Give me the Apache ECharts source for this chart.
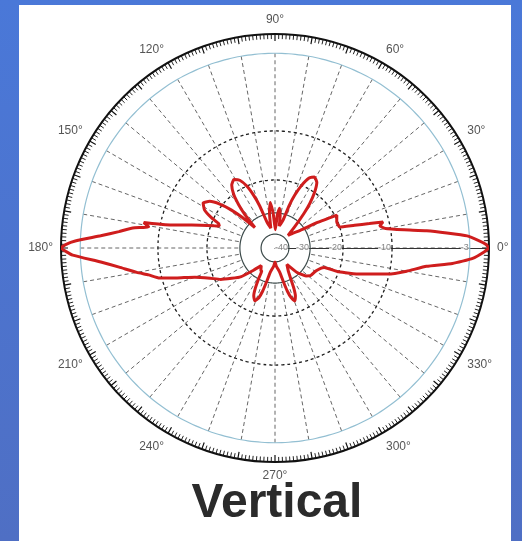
<!DOCTYPE html>
<html>
<head>
    <meta http-equiv="Content-Type" content="text/html; charset=utf-8" />
    <title>Vertical</title>
    <script src="https://cdn.jsdelivr.net/npm/echarts@6/dist/echarts.min.js"></script>
</head>
<body style="margin:0;padding:0;">
    <div id="main" style="width:522px;height:541px;"></div>
    <script type="text/javascript">
        /*************************************************************
        * data
        *************************************************************/
        // pattern, angle in degrees and level in dB
        var patternAngle = [0, 1, 2, 3.6, 5, 6.5, 8, 10, 12, 13.5, 14.5, 16, 18, 23, 28, 31, 35, 40, 44,
            47, 50, 52, 54.5, 57.5, 61, 64, 67, 69.5, 71.5, 74, 79, 81, 83.5, 86, 89, 93, 96, 99, 102,
            107, 110, 112, 114.5, 117.5, 121, 124.5, 127.5, 130, 132, 134.5, 137, 139, 141.5, 144.5, 148, 151.5, 154.5,
            156.5, 158.5, 160, 163, 166, 168, 169, 170.5, 172, 174, 176, 178, 179, 180,
            181, 182, 184.6, 187, 190, 192, 194.6, 197, 200, 205, 210, 215, 220, 226, 232, 238,
            240, 242, 244, 246, 249, 252, 254, 256, 259, 266, 270, 274, 281, 284, 286, 288, 290.5, 293, 295, 297, 300,
            306, 312, 318, 322, 330, 336, 338.4, 339.5, 343, 347, 350, 353.1, 355, 357, 359, 360];
        var patternDb = [0, -0.5, -1.5, -3.2, -5, -6.8, -8.8, -11, -12, -11.2, -14, -17, -20, -20.3, -19.6, -25.6, -32, -36, -38,
            -33, -27, -23.5, -20, -18, -17.3, -18, -20, -23.5, -27, -33, -36, -31, -28.5, -31, -38, -30, -26.8, -30, -37,
            -34, -27, -23.5, -20, -18.3, -17.6, -18.3, -20, -23.5, -27, -33, -27, -23, -19.5, -17.5, -16.6, -17.5, -19.5,
            -22, -22.5, -21, -18, -14.5, -11, -8.5, -9, -7.6, -6.4, -4.8, -2.2, -0.8, 0,
            -0.8, -1.8, -4.8, -6.4, -7.9, -8.9, -9.8, -13, -16.5, -19.3, -21.6, -24.6, -27, -32, -36, -34,
            -34, -30, -27, -24.8, -23.5, -24.8, -27, -30, -35, -38, -40, -38, -35, -30, -27, -24.8, -23.5, -24.8, -27, -30, -34,
            -37, -31, -28, -27, -26.5, -25.5, -24.6, -20, -15.7, -10.2, -8.5, -6.8, -4.5, -2.5, -0.7, 0];

        // rings (dB) and their labels along the 0 degree line
        var ringDb = [-3, -10, -20, -30, -40];
        var ringLabel = ['-3', '-10', '-20', '-30', '-40'];

        // angle labels every 30 degrees
        var angleLabelStep = 30;

        /*************************************************************
        * dB scale (log-like, rings are not evenly spaced)
        *************************************************************/
        var scaleDb = [0, -3, -10, -20, -30, -40];
        var scaleR = [1, 0.91, 0.547, 0.318, 0.164, 0.065];
        function dbToR(db) {
            if (db >= 0) return 1;
            for (var i = 1; i < scaleDb.length; i++) {
                if (db >= scaleDb[i]) {
                    var t = (db - scaleDb[i - 1]) / (scaleDb[i] - scaleDb[i - 1]);
                    return scaleR[i - 1] + t * (scaleR[i] - scaleR[i - 1]);
                }
            }
            return Math.max(0, scaleR[scaleR.length - 1] * (db + 50) / 10);
        }

        /*************************************************************
        * series
        *************************************************************/
        var patternData = [];
        for (var i = 0; i < patternAngle.length; i++)
            patternData.push([dbToR(patternDb[i]), patternAngle[i]]);

        var seriesList = [];
        for (var k = 0; k < ringDb.length; k++) {
            var ring = [];
            for (var a = 0; a <= 360; a += 2) ring.push([dbToR(ringDb[k]), a]);
            var ringStyle;
            if (ringDb[k] == -3) ringStyle = { color: '#93bfd2', width: 1.2, type: 'solid' };
            else if (ringDb[k] <= -30) ringStyle = { color: '#3c4a4a', width: 1.2, type: 'solid' };
            else ringStyle = { color: '#1e1e1e', width: 1.3, type: [3, 3] };
            seriesList.push({
                type: 'line', coordinateSystem: 'polar', polarIndex: 1,
                data: ring, showSymbol: false, silent: true, smooth: true,
                lineStyle: ringStyle, z: 1
            });
        }
        var labelData = [];
        for (var k = 0; k < ringDb.length; k++)
            labelData.push({ value: [dbToR(ringDb[k]), 0], name: ringLabel[k] });
        seriesList.push({
            type: 'scatter', coordinateSystem: 'polar', polarIndex: 1,
            data: labelData, symbolSize: 0, silent: true, z: 3,
            label: {
                show: true, position: 'left', distance: 1,
                formatter: '{b}', color: '#666', fontSize: 9,
                fontFamily: 'Liberation Sans', backgroundColor: '#fff'
            }
        });
        seriesList.push({
            type: 'line', coordinateSystem: 'polar', polarIndex: 1,
            data: patternData, showSymbol: false, smooth: 0.15, z: 5,
            lineStyle: { color: '#cf1d1d', width: 3 }
        });

        /*************************************************************
        * chart
        *************************************************************/
        var chart = echarts.init(document.getElementById('main'));
        var option = {
            backgroundColor: new echarts.graphic.LinearGradient(0, 0, 0, 1, [
                { offset: 0, color: '#4a78d8' }, { offset: 1, color: '#4f6fc4' }
            ]),
            graphic: [
                { type: 'rect', shape: { x: 19, y: 5, width: 492, height: 536 }, style: { fill: '#fff' }, z: -10 },
                {
                    type: 'text', x: 277, y: 504, z: 10,
                    style: {
                        text: 'Vertical', fill: '#2b2b2b', fontSize: 48, fontWeight: 'bold',
                        fontFamily: 'Liberation Sans', align: 'center', verticalAlign: 'middle'
                    }
                }
            ],
            polar: [
                // spokes run from the -30 ring out to the -3 ring
                { center: [275, 248], radius: [214 * dbToR(-30), 214 * dbToR(-3)] },
                { center: [275, 248], radius: 214 }
            ],
            angleAxis: [
                {
                    polarIndex: 0, type: 'value', min: 0, max: 360, interval: 10,
                    startAngle: 0, clockwise: false,
                    axisLine: { show: false }, axisTick: { show: false }, axisLabel: { show: false },
                    splitLine: { show: true, lineStyle: { color: '#666', width: 1, type: [4, 3] } }
                },
                {
                    polarIndex: 1, type: 'value', min: 0, max: 360, interval: 10,
                    startAngle: 0, clockwise: false,
                    axisLine: { show: true, lineStyle: { color: '#111', width: 2 } },
                    axisTick: { show: true, inside: true, length: 7, lineStyle: { color: '#111', width: 1.2 } },
                    minorTick: { show: true, splitNumber: 10, length: 5, lineStyle: { color: '#222', width: 1 } },
                    axisLabel: {
                        margin: 8, color: '#555', fontSize: 12, fontFamily: 'Liberation Sans',
                        formatter: function (v) { return (v % angleLabelStep == 0 && v < 360) ? v + '°' : ''; }
                    },
                    splitLine: { show: false }
                }
            ],
            radiusAxis: [
                { polarIndex: 0, type: 'value', min: 0, max: 1, show: false },
                {
                    polarIndex: 1, type: 'value', min: 0, max: 1,
                    axisLine: { show: true, lineStyle: { color: '#333', width: 1.2 } },
                    axisTick: { show: false }, axisLabel: { show: false }, splitLine: { show: false }
                }
            ],
            series: seriesList
        };
        chart.setOption(option);
    </script>
</body>
</html>
